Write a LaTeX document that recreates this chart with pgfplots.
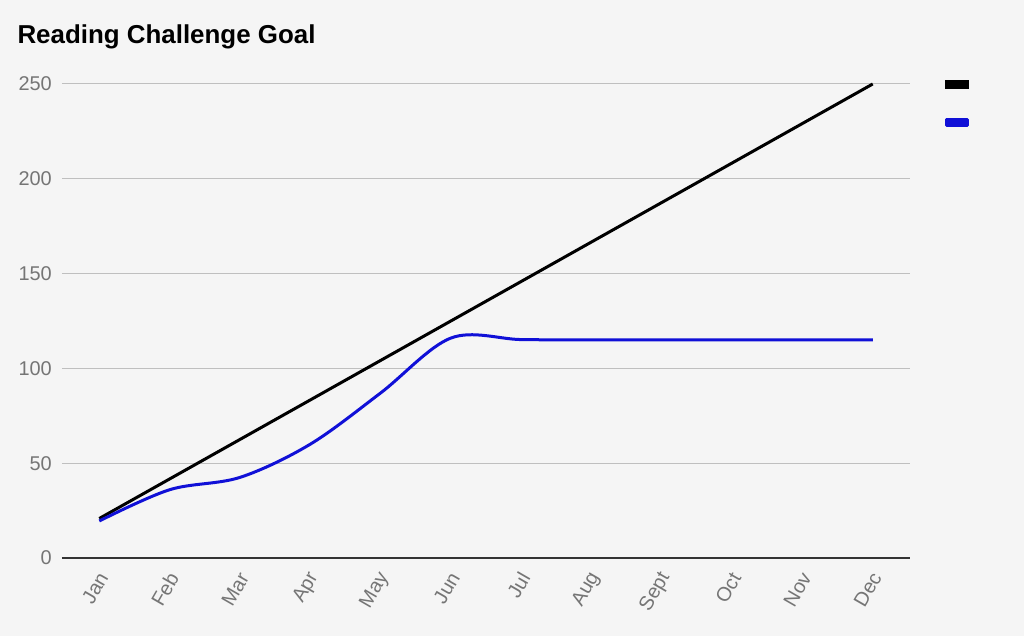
\documentclass[border=0pt]{standalone}
\usepackage{pgfplots}
\pgfplotsset{compat=1.18}
\usepackage{fontspec}
\setmainfont{Liberation Sans}
\definecolor{bg}{HTML}{F5F5F5}
\definecolor{grid}{HTML}{C8C8C8}
\definecolor{tick}{HTML}{757575}
\definecolor{axisline}{HTML}{333333}
\definecolor{actual}{RGB}{16,16,215}
\begin{document}
\begin{tikzpicture}[x=1bp,y=1bp]
\fill[bg] (-62,-78) rectangle (962,558);
\useasboundingbox (-62,-78) rectangle (962,558);
\node[anchor=west,font=\fontsize{26}{30}\selectfont\bfseries] at (-48,521) {Reading Challenge Goal};
\begin{axis}[
  at={(0,0)}, anchor=south west,
  scale only axis, width=848bp, height=474bp,
  xmin=-0.53, xmax=11.53, ymin=0, ymax=250,
  xtick={0,...,11},
  xticklabels={Jan,Feb,Mar,Apr,May,Jun,Jul,Aug,Sept,Oct,Nov,Dec},
  ytick={0,50,100,150,200,250},
  ymajorgrids, xmajorgrids=false, grid style={grid, line width=1bp},
  axis lines*=left,
  x axis line style={axisline, line width=1.2bp, -},
  y axis line style={draw=none},
  major tick length=0pt,
  tick label style={font=\fontsize{20}{23}\selectfont, text=tick},
  /pgf/number format/assume math mode=true,
  xticklabel style={rotate=60, anchor=east, inner sep=1bp, yshift=-11.5bp, xshift=-11bp},
  yticklabel style={anchor=east, inner sep=0pt, xshift=-10bp},
  legend style={at={(rel axis cs:1.038,1.012)}, anchor=north west, draw=none, fill=none, row sep=29bp, font=\fontsize{12}{14}\selectfont},
  legend cell align=left,
  clip=false,
]
\addplot[black, line width=3bp, legend image code/.code={\fill[black] (0bp,-3bp) rectangle (21bp,3bp);}] coordinates {
(0,20.83) (1,41.67) (2,62.5) (3,83.33) (4,104.17) (5,125) (6,145.83) (7,166.67) (8,187.5) (9,208.33) (10,229.17) (11,250)};
\addlegendentry{}
\addplot[actual, line width=3bp, smooth, tension=0.55, line join=round, legend image code/.code={\fill[actual] (0bp,-3bp) rectangle (21bp,3bp);}] coordinates {
(0,19.5) (1,36) (2,42.5) (3,60) (4,87) (5,116) (6,115.2) (7,115) (8,115) (9,115) (10,115) (11,115)};
\addlegendentry{}
\end{axis}
\end{tikzpicture}
\end{document}
